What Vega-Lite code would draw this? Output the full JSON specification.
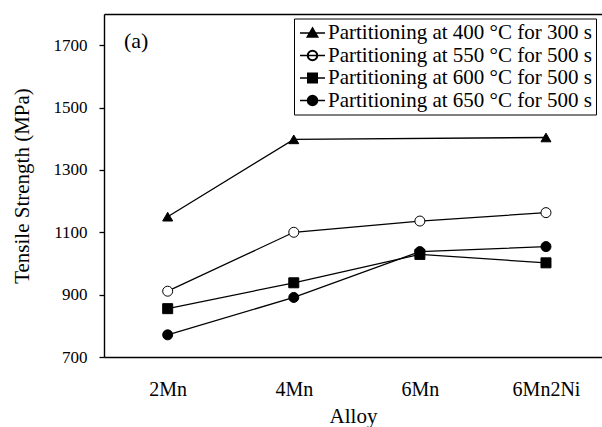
{
  "$schema": "https://vega.github.io/schema/vega-lite/v6.json",
  "width": 498,
  "height": 343,
  "autosize": {"type": "none"},
  "padding": {"left": 104, "top": 14, "right": 0, "bottom": 70},
  "config": {
    "font": "Liberation Serif",
    "view": {"stroke": null},
    "axis": {"domainColor": "black", "domainWidth": 1.4, "tickColor": "black", "tickWidth": 1.3, "labelColor": "black", "titleColor": "black", "titleFontWeight": "normal", "grid": false, "labelFont": "Liberation Serif", "titleFont": "Liberation Serif"},
    "axisLeft": {"tickSize": 5, "labelPadding": 12, "labelFontSize": 17, "titleFontSize": 21, "titlePadding": 21, "format": "d"},
    "axisBottom": {"ticks": false, "tickSize": 0, "labelPadding": 22, "labelFontSize": 20, "titleFontSize": 21, "titlePadding": 6, "labelAngle": 0},
    "legend": {"labelFont": "Liberation Serif"}
  },
  "title": {"text": "(a)", "anchor": "start", "frame": "group", "offset": 0, "baseline": "alphabetic", "dx": 20, "dy": 56, "fontSize": 22, "fontWeight": "normal", "color": "black", "font": "Liberation Serif"},
  "data": {
    "values": [
      {"alloy": "2Mn", "series": "Partitioning at 400 °C for 300 s", "ts": 1150},
      {"alloy": "4Mn", "series": "Partitioning at 400 °C for 300 s", "ts": 1398},
      {"alloy": "6Mn2Ni", "series": "Partitioning at 400 °C for 300 s", "ts": 1404},
      {"alloy": "2Mn", "series": "Partitioning at 550 °C for 500 s", "ts": 911},
      {"alloy": "4Mn", "series": "Partitioning at 550 °C for 500 s", "ts": 1100},
      {"alloy": "6Mn", "series": "Partitioning at 550 °C for 500 s", "ts": 1136},
      {"alloy": "6Mn2Ni", "series": "Partitioning at 550 °C for 500 s", "ts": 1163},
      {"alloy": "2Mn", "series": "Partitioning at 600 °C for 500 s", "ts": 855},
      {"alloy": "4Mn", "series": "Partitioning at 600 °C for 500 s", "ts": 938},
      {"alloy": "6Mn", "series": "Partitioning at 600 °C for 500 s", "ts": 1029},
      {"alloy": "6Mn2Ni", "series": "Partitioning at 600 °C for 500 s", "ts": 1002},
      {"alloy": "2Mn", "series": "Partitioning at 650 °C for 500 s", "ts": 771},
      {"alloy": "4Mn", "series": "Partitioning at 650 °C for 500 s", "ts": 891},
      {"alloy": "6Mn", "series": "Partitioning at 650 °C for 500 s", "ts": 1038},
      {"alloy": "6Mn2Ni", "series": "Partitioning at 650 °C for 500 s", "ts": 1054}
    ]
  },
  "layer": [
    {
      "mark": {"type": "line", "color": "black", "strokeWidth": 1.3},
      "encoding": {
        "x": {
          "field": "alloy", "type": "ordinal", "sort": ["2Mn", "4Mn", "6Mn", "6Mn2Ni"], "title": "Alloy",
          "scale": {"type": "point", "padding": 0.4746, "align": 0.532},
          "axis": {"orient": "bottom"}
        },
        "y": {
          "field": "ts", "type": "quantitative", "title": "Tensile Strength (MPa)",
          "scale": {"domain": [700, 1800], "nice": false, "zero": false},
          "axis": {"values": [700, 900, 1100, 1300, 1500, 1700]}
        },
        "detail": {"field": "series"}
      }
    },
    {
      "mark": {"type": "point", "filled": true, "stroke": "black", "strokeWidth": 1, "size": 100, "opacity": 1},
      "encoding": {
        "x": {
          "field": "alloy", "type": "ordinal", "sort": ["2Mn", "4Mn", "6Mn", "6Mn2Ni"],
          "scale": {"type": "point", "padding": 0.4746, "align": 0.532},
          "axis": {"orient": "top", "labels": false, "ticks": false, "title": null}
        },
        "y": {"field": "ts", "type": "quantitative", "title": "Tensile Strength (MPa)", "axis": {"values": [700, 900, 1100, 1300, 1500, 1700]}},
        "shape": {
          "field": "series", "type": "nominal",
          "scale": {"domain": ["Partitioning at 400 °C for 300 s", "Partitioning at 550 °C for 500 s", "Partitioning at 600 °C for 500 s", "Partitioning at 650 °C for 500 s"], "range": ["triangle-up", "circle", "square", "circle"]},
          "legend": null
        },
        "fill": {
          "field": "series", "type": "nominal",
          "scale": {"domain": ["Partitioning at 400 °C for 300 s", "Partitioning at 550 °C for 500 s", "Partitioning at 600 °C for 500 s", "Partitioning at 650 °C for 500 s"], "range": ["black", "white", "black", "black"]},
          "legend": null
        }
      }
    },
    {
      "transform": [{"filter": "false"}],
      "mark": {"type": "point", "filled": true, "color": "black", "stroke": "black", "strokeWidth": 1, "opacity": 1},
      "encoding": {
        "shape": {
          "field": "series", "type": "nominal",
          "scale": {
            "domain": ["Partitioning at 400 °C for 300 s", "Partitioning at 550 °C for 500 s", "Partitioning at 600 °C for 500 s", "Partitioning at 650 °C for 500 s"],
            "range": [
              "M-2.5,0H2.5M0,-1L1.05,0.8H-1.05Z",
              "M-2.5,0H2.5M1,0A1,1 0 1,1 -1,0A1,1 0 1,1 1,0ZM0.88,0A0.88,0.88 0 1,0 -0.88,0A0.88,0.88 0 1,0 0.88,0Z",
              "M-2.5,0H2.5M-0.95,-0.95H0.95V0.95H-0.95Z",
              "M-2.5,0H2.5M1,0A1,1 0 1,1 -1,0A1,1 0 1,1 1,0Z"
            ]
          },
          "legend": {
            "title": null, "orient": "none", "legendX": 190, "legendY": 4.5, "strokeColor": "black", "fillColor": "white", "padding": 4,
            "symbolSize": 100, "symbolOffset": 4, "labelFontSize": 21, "labelOffset": 5, "rowPadding": 0.5, "labelColor": "black", "labelLimit": 400,
            "encode": {"symbols": {"update": {"stroke": {"value": "black"}, "strokeWidth": {"value": 1}, "fill": {"value": "black"}, "opacity": {"value": 1}}}}
          }
        }
      }
    }
  ],
  "resolve": {"scale": {"shape": "independent"}, "axis": {"x": "independent"}}
}
